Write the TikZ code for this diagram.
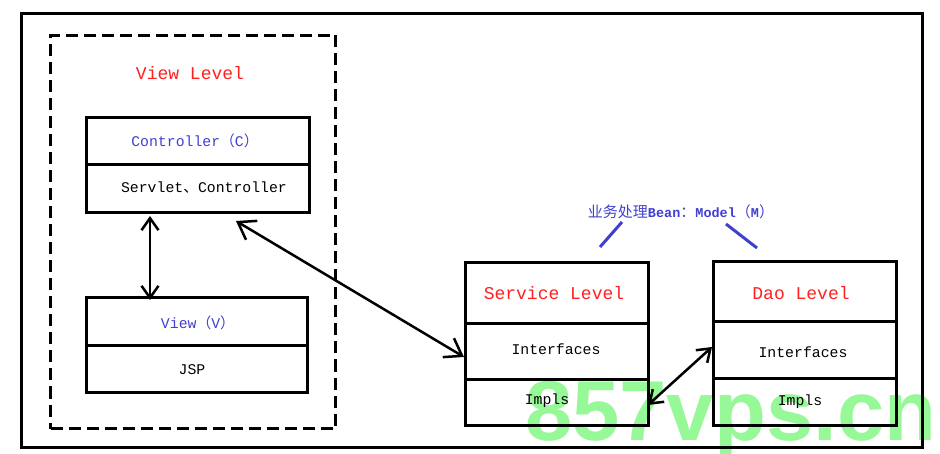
\documentclass[tikz,border=0pt]{standalone}
\usepackage{fontspec}
\setmonofont{Liberation Mono}
\newfontfamily\cjk{Noto Sans CJK SC}
\newfontfamily\wmfont{Liberation Sans}
\usetikzlibrary{arrows.meta}
\definecolor{lblue}{RGB}{64,64,208}
\definecolor{lred}{RGB}{255,32,32}
\definecolor{wmgreen}{RGB}{150,248,150}
\tikzset{
  boxshape/.style={draw, line width=3pt, inner sep=0pt, anchor=north west},
  divline/.style={line width=3pt},
  big/.style={font=\ttfamily\fontsize{18}{20}\selectfont, text=lred},
  small/.style={font=\ttfamily\fontsize{14.8}{16}\selectfont},
  smallblue/.style={small, text=lblue},
  dbl/.style={line width=2.5pt, {Straight Barb[length=12pt,width=17pt]}-{Straight Barb[length=12pt,width=17pt]}},
  dblbig/.style={line width=2.5pt, {Straight Barb[length=16pt,width=22pt]}-{Straight Barb[length=16pt,width=22pt]}},
  bluestroke/.style={line width=3pt, draw=lblue},
}
\begin{document}
\begin{tikzpicture}[x=1pt,y=-1pt]
\useasboundingbox (0,0) rectangle (940,454);
% watermark (behind)
\node[font=\wmfont\bfseries\fontsize{85}{85}\selectfont, text=wmgreen, anchor=base west, inner sep=0pt] (wm) at (525,440) {857vps.cn};
% outer frame
\node[boxshape, minimum width=901pt, minimum height=434pt] (frame) at (20,12) {};
% dashed view level
\node[boxshape, dash pattern=on 12pt off 6pt, minimum width=285pt, minimum height=393pt] (vl) at (49,34) {};
\node[big] (vltitle) at (190,73) {View Level};
% controller
\node[boxshape, minimum width=223pt, minimum height=95pt] (ctrl) at (85,116) {};
\draw[divline] (85,165) coordinate (c1) -- (308,165) coordinate (c2);
\node[smallblue] (ctrlt) at (195,141) {Controller\cjk （\ttfamily C\cjk ）};
\node[small] (ctrlb) at (204,188) {Servlet\cjk 、\ttfamily Controller};
% view
\node[boxshape, minimum width=221pt, minimum height=95pt] (view) at (85,296) {};
\draw[divline] (85,346) coordinate (v1) -- (306,346) coordinate (v2);
\node[smallblue] (viewt) at (198,323) {View\cjk （\ttfamily V\cjk ）};
\node[small] (viewb) at (192,370) {JSP};
% service
\node[boxshape, minimum width=183pt, minimum height=163pt] (svc) at (464,261) {};
\draw[divline] (464,324) coordinate (s1) -- (650,324) coordinate (s2);
\draw[divline] (464,379) coordinate (s3) -- (647,379) coordinate (s4);
\node[big] (svct) at (554,293) {Service Level};
\node[small] (svci) at (556,349) {Interfaces};
\node[small] (svcm) at (547,401) {Impls};
% dao
\node[boxshape, minimum width=183pt, minimum height=164pt] (dao) at (712,260) {};
\draw[divline] (712,322) coordinate (d1) -- (897,322) coordinate (d2);
\draw[divline] (712,378) coordinate (d3) -- (897,378) coordinate (d4);
\node[big] (daot) at (801,293) {Dao Level};
\node[small] (daoi) at (803,352) {Interfaces};
\node[small] (daom) at (800,402) {Impls};
% label
\node[font=\fontsize{15}{17}\selectfont, text=lblue] (mlabel) at (681,212)
  {\cjk 业务处理\ttfamily\bfseries\fontsize{13.5}{16}\selectfont Bean\cjk\mdseries\fontsize{15}{17}\selectfont ：\ttfamily\bfseries\fontsize{13.5}{16}\selectfont Model\cjk\mdseries\fontsize{15}{17}\selectfont （\ttfamily\bfseries\fontsize{13.5}{16}\selectfont M\cjk\mdseries\fontsize{15}{17}\selectfont ）};
\coordinate (b1s) at (622,222);
\coordinate (b1e) at (600,247);
\coordinate (b2s) at (726,224);
\coordinate (b2e) at (757,248);
\draw[bluestroke] (b1s) -- (b1e);
\draw[bluestroke] (b2s) -- (b2e);
% arrows
\coordinate (vx) at (150,0);
\draw[dbl] (ctrl.south -| vx) ++(0,2) -- ([yshift=-4pt]view.north -| vx);
\coordinate (a1) at (236,221);
\coordinate (a2) at (464,357);
\draw[dblbig] (a1) -- (a2);
\coordinate (a3) at (648,405);
\coordinate (a4) at (712,347);
\draw[dbl] (a3) -- (a4);
\end{tikzpicture}
\end{document}
